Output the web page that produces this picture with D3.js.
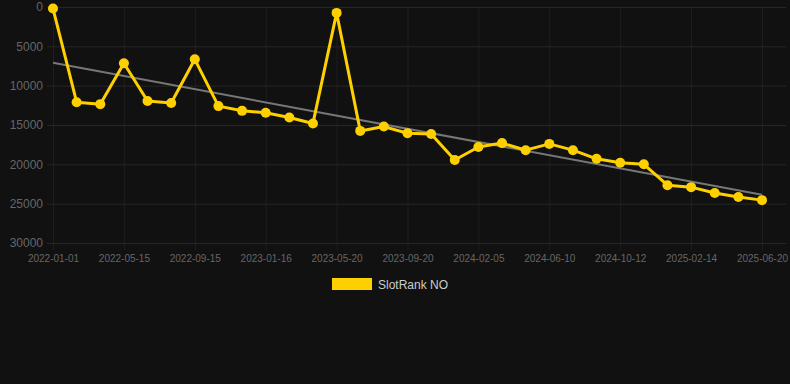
<!DOCTYPE html>
<html>
<head>
<meta charset="utf-8">
<script src="https://cdn.jsdelivr.net/npm/d3@7/dist/d3.min.js"></script>
<style>
  html, body { margin: 0; padding: 0; background: #111111; }
  svg { display: block; }
</style>
</head>
<body>
<svg id="chart" width="790" height="384"></svg>
<script>
// ---- data ----
const dates = [
  "2022-01-01","2022-02-15","2022-03-31","2022-05-15","2022-06-15","2022-08-15",
  "2022-09-15","2022-10-30","2022-12-01","2023-01-16","2023-02-28","2023-04-10",
  "2023-05-20","2023-06-30","2023-08-10","2023-09-20","2023-11-05","2023-12-20",
  "2024-02-05","2024-03-20","2024-04-30","2024-06-10","2024-07-20","2024-09-01",
  "2024-10-12","2024-11-25","2025-01-01","2025-02-14","2025-03-30","2025-05-10",
  "2025-06-20"
];
const rankValues = [
  200, 12100, 12350, 7150, 11950, 12200,
  6650, 12600, 13200, 13450, 14050, 14800,
  750, 15750, 15200, 16050, 16150, 19450,
  17800, 17300, 18200, 17400, 18200, 19300,
  19800, 20000, 22650, 22900, 23650, 24150,
  24550
];
const yTicks = [0, 5000, 10000, 15000, 20000, 25000, 30000];
const xLabelEvery = 3;
const seriesName = "SlotRank NO";

// ---- layout ----
const svg = d3.select("#chart");
const W = 790, H = 384;
const plotLeft = 53, plotRight = 762, plotTop = 7, plotBottom = 243;
const gridLeft = 47, gridRight = 786;

svg.append("rect").attr("width", W).attr("height", H).attr("fill", "#111111");

const x = d3.scalePoint().domain(dates).range([plotLeft, plotRight]);
const y = d3.scaleLinear().domain([0, 30000]).range([plotTop, plotBottom]);

// vertical grid (at labelled categories)
const shownDates = dates.filter((d, i) => i % xLabelEvery === 0);
svg.append("g").selectAll("line").data(shownDates).join("line")
  .attr("x1", d => x(d) + 0.5).attr("x2", d => x(d) + 0.5)
  .attr("y1", plotTop).attr("y2", plotBottom + 7)
  .attr("stroke", "#1e1e1e").attr("stroke-width", 1);

// horizontal grid
svg.append("g").selectAll("line").data(yTicks).join("line")
  .attr("x1", gridLeft).attr("x2", gridRight)
  .attr("y1", d => y(d) + 0.5).attr("y2", d => y(d) + 0.5)
  .attr("stroke", "#262626").attr("stroke-width", 1);

// y axis labels
const yAxis = d3.axisLeft(y).tickValues(yTicks).tickSize(0).tickPadding(0).tickFormat(d3.format("d"));
const gy = svg.append("g").attr("transform", "translate(43,0)").call(yAxis);
gy.select(".domain").remove();
gy.selectAll("text").attr("fill", "#666666").attr("font-family", "Liberation Sans, Arial, sans-serif").attr("font-size", "12px");

// x axis labels
const xAxis = d3.axisBottom(x).tickValues(shownDates).tickSize(0).tickPadding(0);
const gx = svg.append("g").attr("transform", "translate(0,255)").call(xAxis);
gx.select(".domain").remove();
gx.selectAll("text").attr("fill", "#666666").attr("font-family", "Liberation Sans, Arial, sans-serif").attr("font-size", "10px");

// trend line (least squares over category index)
const n = rankValues.length;
const idx = d3.range(n);
const mx = d3.mean(idx), my = d3.mean(rankValues);
const slope = d3.sum(idx, i => (i - mx) * (rankValues[i] - my)) / d3.sum(idx, i => (i - mx) * (i - mx));
const intercept = my - slope * mx;
svg.append("line")
  .attr("x1", x(dates[0])).attr("y1", y(intercept))
  .attr("x2", x(dates[n - 1])).attr("y2", y(intercept + slope * (n - 1)))
  .attr("stroke", "#777777").attr("stroke-width", 2);

// series line
const line = d3.line().x((d, i) => x(dates[i])).y(d => y(d));
svg.append("path").datum(rankValues)
  .attr("d", line).attr("fill", "none")
  .attr("stroke", "#FFD000").attr("stroke-width", 3).attr("stroke-linejoin", "round");

svg.append("g").selectAll("circle").data(rankValues).join("circle")
  .attr("cx", (d, i) => x(dates[i])).attr("cy", d => y(d)).attr("r", 5)
  .attr("fill", "#FFD000");

// legend
const lg = svg.append("g");
lg.append("rect").attr("x", 332).attr("y", 278).attr("width", 40).attr("height", 12).attr("fill", "#FFD000");
lg.append("text").attr("x", 378).attr("y", 289).text(seriesName)
  .attr("fill", "#cccccc").attr("font-family", "Liberation Sans, Arial, sans-serif").attr("font-size", "12px");
</script>
</body>
</html>
